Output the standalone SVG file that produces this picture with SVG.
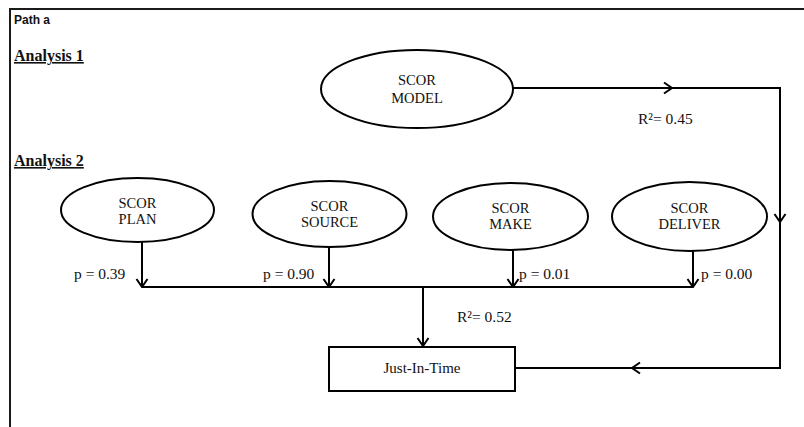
<svg xmlns="http://www.w3.org/2000/svg" width="804" height="427" viewBox="0 0 804 427">
<defs>
<style>
.frame{stroke:#1a1a1a;stroke-width:2;fill:none}
.node{fill:#fff;stroke:#000;stroke-width:2}
.t{font-family:"Liberation Serif","Times New Roman",serif;font-size:14.5px;fill:#111;text-anchor:middle}
.lbl{font-family:"Liberation Serif","Times New Roman",serif;font-size:15.5px;fill:#111}
.hd{font-family:"Liberation Serif","Times New Roman",serif;font-size:16px;font-weight:bold;fill:#111;text-decoration:underline}
.path{font-family:"Liberation Sans",Arial,sans-serif;font-size:12px;font-weight:bold;fill:#111}
.c{fill:none;stroke:#000;stroke-width:2}
</style>
<marker id="ah" viewBox="-9 -7 10 14" markerWidth="10" markerHeight="14" refX="0" refY="0" orient="auto" markerUnits="userSpaceOnUse">
<path d="M-8,-5.5 L0,0 L-8,5.5" fill="none" stroke="#000" stroke-width="2"/>
</marker>
</defs>
<rect width="804" height="427" fill="#fff"/>
<path class="frame" d="M10,427 V9 H804"/>
<text class="path" x="14" y="24">Path a</text>
<text class="hd" x="14" y="61">Analysis 1</text>
<text class="hd" x="14" y="166">Analysis 2</text>

<g id="connectors">
<path class="c" d="M513,88 H672" marker-end="url(#ah)"/>
<path class="c" d="M672,88 H780 V222" marker-end="url(#ah)"/>
<path class="c" d="M780,222 V368 H632" marker-end="url(#ah)"/>
<path class="c" d="M632,368 H515"/>
<path class="c" d="M142,242 V287" marker-end="url(#ah)"/>
<path class="c" d="M329,247 V287" marker-end="url(#ah)"/>
<path class="c" d="M513,250 V287" marker-end="url(#ah)"/>
<path class="c" d="M693,251 V287" marker-end="url(#ah)"/>
<path class="c" d="M142,287 H693"/>
<path class="c" d="M423,287 V346" marker-end="url(#ah)"/>
<text class="lbl" x="638" y="124">R²= 0.45</text>
<text class="lbl" x="74" y="279">p = 0.39</text>
<text class="lbl" x="263" y="279">p = 0.90</text>
<text class="lbl" x="519" y="279">p = 0.01</text>
<text class="lbl" x="701" y="279">p = 0.00</text>
<text class="lbl" x="457" y="322">R²= 0.52</text>
</g>

<g id="scor-model">
<ellipse class="node" cx="417" cy="89" rx="96" ry="39"/>
<text class="t" x="417" y="85">SCOR</text>
<text class="t" x="417" y="103">MODEL</text>
</g>
<g id="scor-plan">
<ellipse class="node" cx="137.5" cy="210" rx="76.5" ry="32"/>
<text class="t" x="137.5" y="208">SCOR</text>
<text class="t" x="137.5" y="224">PLAN</text>
</g>
<g id="scor-source">
<ellipse class="node" cx="329.5" cy="214" rx="77" ry="33"/>
<text class="t" x="329.5" y="211">SCOR</text>
<text class="t" x="329.5" y="227">SOURCE</text>
</g>
<g id="scor-make">
<ellipse class="node" cx="510.5" cy="216.5" rx="77.5" ry="33.5"/>
<text class="t" x="510.5" y="213">SCOR</text>
<text class="t" x="510.5" y="229">MAKE</text>
</g>
<g id="scor-deliver">
<ellipse class="node" cx="689.5" cy="216.5" rx="77.5" ry="34.5"/>
<text class="t" x="689.5" y="213">SCOR</text>
<text class="t" x="689.5" y="229">DELIVER</text>
</g>
<g id="just-in-time">
<rect class="node" x="329" y="347" width="186" height="44"/>
<text class="t" x="422" y="373" style="font-size:15px">Just-In-Time</text>
</g>
</svg>
